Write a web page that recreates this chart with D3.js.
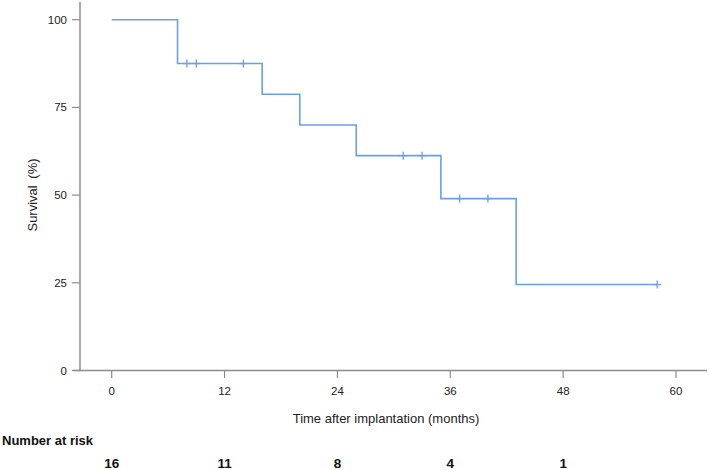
<!DOCTYPE html>
<html><head><meta charset="utf-8">
<script src="https://cdn.jsdelivr.net/npm/d3@7"></script>
<style>body{margin:0;background:#fff}svg{display:block}</style>
</head><body>
<svg id="c" width="709" height="470"></svg>
<script>
// Kaplan-Meier step points (time in months, survival %)
const stepTimes = [0, 7, 16, 20, 26, 35, 43];
const stepSurv  = [100, 87.5, 78.75, 70, 61.25, 49, 24.5];
const endTime = 58;
const censorTimes = [8, 9, 14, 31, 33, 37, 40, 58];
const xTicks = [0, 12, 24, 36, 48, 60];
const yTicks = [0, 25, 50, 75, 100];
const riskTimes = [0, 12, 24, 36, 48];
const riskCounts = [16, 11, 8, 4, 1];

const svg = d3.select("#c");
const font = "Arial, 'Liberation Sans', sans-serif";
const x = d3.scaleLinear().domain([0, 60]).range([111.7, 676]);
const y = d3.scaleLinear().domain([0, 100]).range([370.5, 19.7]);
const axisColor = "#8c8c8c";

// axes lines
svg.append("line").attr("x1", 80).attr("x2", 80).attr("y1", 2).attr("y2", 370.5)
  .attr("stroke", axisColor).attr("stroke-width", 1.5);
svg.append("line").attr("x1", 73).attr("x2", 707).attr("y1", 370.5).attr("y2", 370.5)
  .attr("stroke", axisColor).attr("stroke-width", 1.5);

// y ticks
yTicks.forEach(t => {
  svg.append("line").attr("x1", 72).attr("x2", 80).attr("y1", y(t)).attr("y2", y(t))
    .attr("stroke", axisColor).attr("stroke-width", 1.2);
  svg.append("text").attr("x", 67).attr("y", y(t) + 4).attr("text-anchor", "end")
    .attr("font-family", font).attr("font-size", 11.5).attr("fill", "#222").text(t);
});
// x ticks
xTicks.forEach(t => {
  svg.append("line").attr("x1", x(t)).attr("x2", x(t)).attr("y1", 370.5).attr("y2", 378)
    .attr("stroke", axisColor).attr("stroke-width", 1.2);
  svg.append("text").attr("x", x(t)).attr("y", 394.5).attr("text-anchor", "middle")
    .attr("font-family", font).attr("font-size", 11.5).attr("fill", "#222").text(t);
});

// axis titles
svg.append("text").attr("x", 386).attr("y", 423).attr("text-anchor", "middle")
  .attr("font-family", font).attr("font-size", 13).attr("fill", "#222")
  .text("Time after implantation (months)");
svg.append("text").attr("transform", "translate(37,195) rotate(-90)").attr("text-anchor", "middle")
  .attr("font-family", font).attr("font-size", 13).attr("fill", "#222").attr("word-spacing", 3)
  .text("Survival (%)");

// KM step curve
const pts = stepTimes.map((t, i) => [t, stepSurv[i]]);
pts.push([endTime, stepSurv[stepSurv.length - 1]]);
const line = d3.line().x(d => x(d[0])).y(d => y(d[1])).curve(d3.curveStepAfter);
const curveColor = "#6a9fe9";
svg.append("path").attr("d", line(pts)).attr("fill", "none")
  .attr("stroke", curveColor).attr("stroke-width", 1.6);

// censor marks (+)
function survAt(t) {
  let s = stepSurv[0];
  stepTimes.forEach((st, i) => { if (st <= t) s = stepSurv[i]; });
  return s;
}
censorTimes.forEach(t => {
  const cx = x(t), cy = y(survAt(t));
  svg.append("line").attr("x1", cx).attr("x2", cx).attr("y1", cy - 4).attr("y2", cy + 4)
    .attr("stroke", curveColor).attr("stroke-width", 1.3);
  svg.append("line").attr("x1", cx - 4).attr("x2", cx + 4).attr("y1", cy).attr("y2", cy)
    .attr("stroke", curveColor).attr("stroke-width", 1.3);
});

// number at risk
svg.append("text").attr("x", 2).attr("y", 445).attr("font-family", font)
  .attr("font-size", 13).attr("font-weight", "bold").attr("fill", "#111").text("Number at risk");
riskTimes.forEach((t, i) => {
  svg.append("text").attr("x", x(t)).attr("y", 468).attr("text-anchor", "middle")
    .attr("font-family", font).attr("font-size", 13.5).attr("font-weight", "bold")
    .attr("fill", "#111").text(riskCounts[i]);
});
</script>
</body></html>
